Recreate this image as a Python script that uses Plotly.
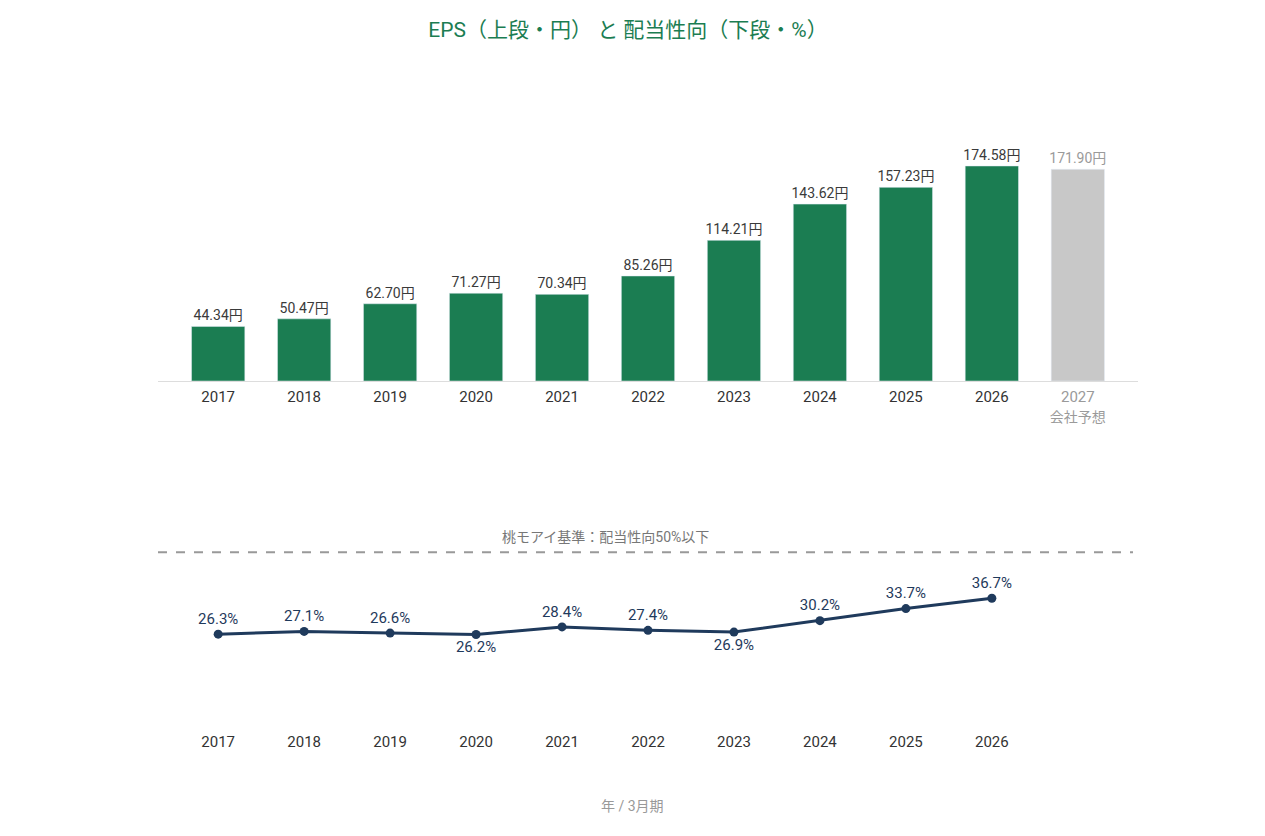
import plotly.graph_objects as go

years = ["2017", "2018", "2019", "2020", "2021", "2022", "2023", "2024", "2025", "2026", "2027"]
eps = [44.34, 50.47, 62.70, 71.27, 70.34, 85.26, 114.21, 143.62, 157.23, 174.58, 171.90]
payout_years = years[:10]
payout = [26.3, 27.1, 26.6, 26.2, 28.4, 27.4, 26.9, 30.2, 33.7, 36.7]
payout_below = ["2020", "2023"]   # labels drawn under the point
forecast_note = "会社予想"
limit = 50

W, H = 1265, 836
OFF = 8   # page body margin in the screenshot
GREEN = "#1b7d52"
GREY_BAR = "#c8c8c8"
NAVY = "#1f3a5c"
FONT = "Roboto, Noto Sans CJK JP"

X0, X1 = 158 - OFF, 1138 - OFF


def py(px_y):
    # screenshot pixel row -> paper fraction
    return 1 - (px_y - OFF) / H


def pxr(px_x):
    # screenshot pixel column -> paper fraction
    return (px_x - OFF - X0) / (X1 - X0)


bar_colors = [GREEN] * 10 + [GREY_BAR]
bar_text_colors = ["#3a3a3a"] * 10 + ["#9a9a9a"]
tick_text = years[:10] + [f"<span style='color:#9a9a9a'>{years[10]}<br><span style='font-size:14px'>{forecast_note}</span></span>"]

fig = go.Figure()
fig.add_trace(go.Bar(
    x=years, y=eps, marker_color=bar_colors, width=0.62,
    text=[f"{v:.2f}円" for v in eps], textposition="outside", constraintext="none",
    textfont=dict(size=14, color=bar_text_colors), cliponaxis=False,
    xaxis="x", yaxis="y", hoverinfo="skip",
))
fig.add_trace(go.Scatter(
    x=payout_years, y=payout, mode="lines+markers+text",
    line=dict(color=NAVY, width=3), marker=dict(color=NAVY, size=9),
    text=[f"{v}%" for v in payout],
    textposition=["bottom center" if y in payout_below else "top center" for y in payout_years],
    textfont=dict(size=15, color=NAVY), cliponaxis=False,
    xaxis="x2", yaxis="y2", hoverinfo="skip",
))

fig.add_shape(type="line", xref="paper", yref="y2", x0=0, x1=pxr(1133),
              y0=limit, y1=limit, line=dict(color="#999999", width=2, dash="dash"))

fig.add_annotation(text="桃モアイ基準：配当性向50%以下", xref="paper", yref="paper",
                   x=pxr(605), y=py(537), showarrow=False,
                   font=dict(size=14, color="#777777"))
fig.add_annotation(text="年 / 3月期", xref="paper", yref="paper",
                   x=pxr(632), y=py(816), showarrow=False,
                   font=dict(size=14, color="#999999"))

fig.update_layout(
    width=W, height=H,
    margin=dict(l=X0, r=W - X1, t=0, b=0),
    paper_bgcolor="white", plot_bgcolor="white",
    showlegend=False,
    font=dict(family=FONT, color="#333333"),
    title=dict(text="EPS（上段・円） と 配当性向（下段・%）", x=pxr(628), xanchor="center",
               xref="paper", y=py(30), yanchor="middle", font=dict(size=21, color=GREEN)),
    xaxis=dict(type="category", range=[-0.7, 10.7], tickvals=years, ticktext=tick_text,
               showline=True, linecolor="#dddddd", linewidth=1, showgrid=False,
               ticks="", tickfont=dict(size=15, color="#333333"), ticklabelstandoff=2),
    yaxis=dict(domain=[py(381), py(80)], range=[0, 301 / 1.2316], visible=False,
               showgrid=False, zeroline=False),
    xaxis2=dict(type="category", range=[-0.7, 10.7], anchor="y2", showline=False,
                showgrid=False, ticks="", tickfont=dict(size=15, color="#333333"),
                ticklabelstandoff=6),
    yaxis2=dict(domain=[py(725), py(535)], range=[0, 55], visible=False,
                showgrid=False, zeroline=False, anchor="x2"),
)

fig.write_html("out.html")
